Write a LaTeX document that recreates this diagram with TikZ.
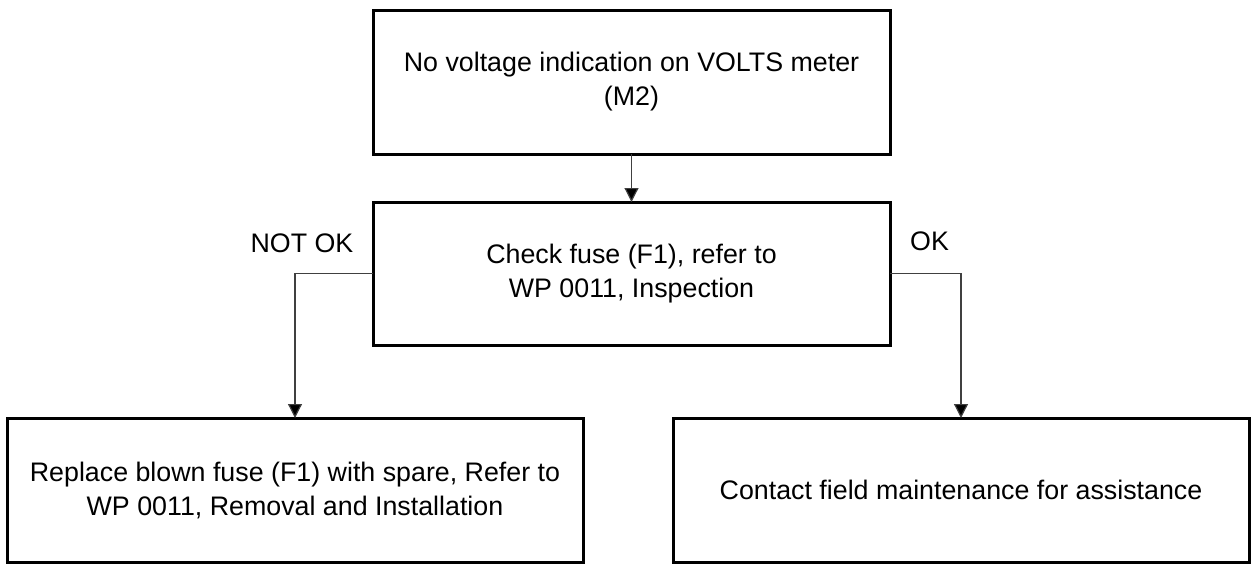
\documentclass[tikz,border=0pt]{standalone}
\usepackage{fontspec}
\setmainfont{Liberation Sans}
\usetikzlibrary{arrows.meta}
\begin{document}
\begin{tikzpicture}[x=1pt,y=-1pt,
  box/.style={draw=black,line width=3pt,inner sep=0pt,outer sep=0pt,align=center,
    font=\fontsize{26.8}{34}\selectfont},
  conn/.style={draw=black!75,line width=1.2pt,-{Triangle[length=14pt,width=14pt,fill=black]}},
  lbl/.style={font=\fontsize{26.8}{30}\selectfont,inner sep=0pt}]
\useasboundingbox (0,0) rectangle (1253,563);
\node[box,minimum width=517pt,minimum height=144pt] (b1) at (631.5,82) {No voltage indication on VOLTS meter\\(M2)};
\node[box,minimum width=517pt,minimum height=143pt] (b2) at (631.5,273.5) {Check fuse (F1), refer to\\WP 0011, Inspection};
\node[box,minimum width=576pt,minimum height=144pt] (b3) at (295,490) {Replace blown fuse (F1) with spare, Refer to\\WP 0011, Removal and Installation};
\node[box,minimum width=576pt,minimum height=144pt] (b4) at (961,490) {Contact field maintenance for assistance};
\node[lbl] (l1) at (302,243) {NOT OK};
\node[lbl] (l2) at (929.5,241) {OK};
\draw[conn] (b1.south) -- (b2.north);
\draw[conn] (b2.west) -| (b3.north);
\draw[conn] (b2.east) -| (b4.north);
\end{tikzpicture}
\end{document}
